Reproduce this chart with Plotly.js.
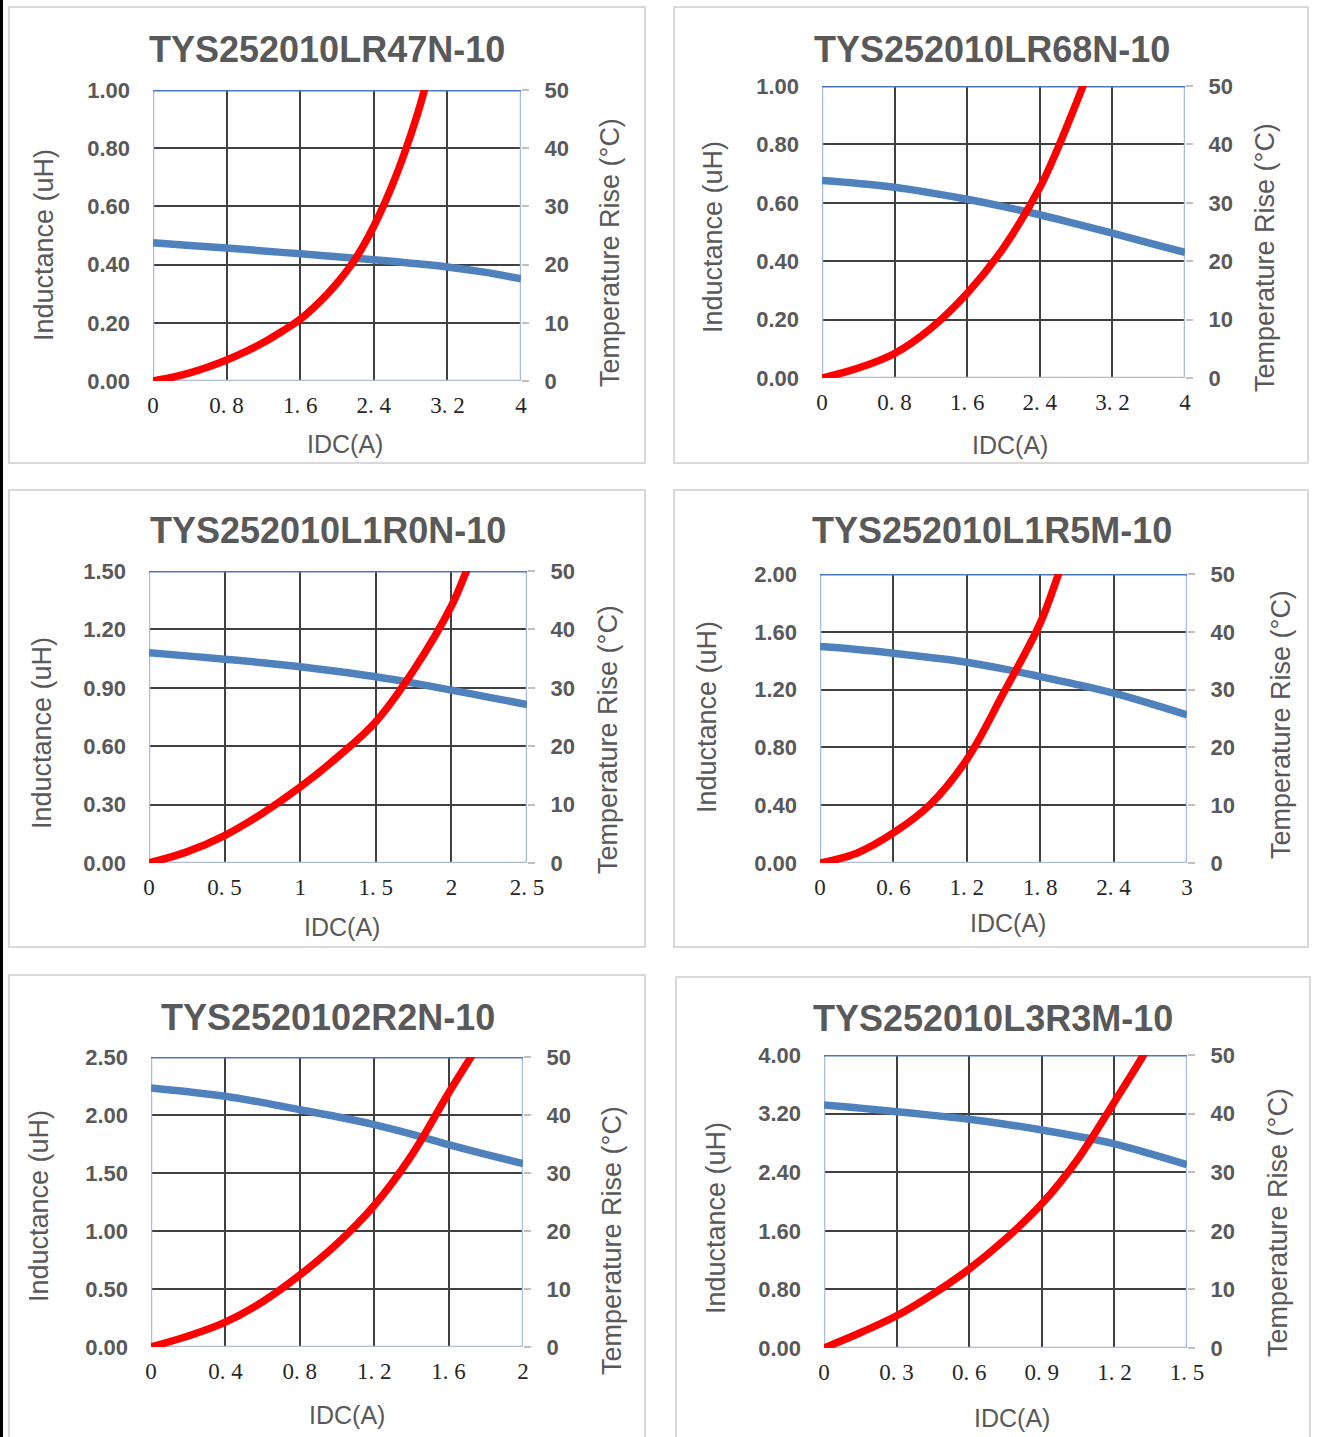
<!DOCTYPE html>
<html>
<head>
<meta charset="utf-8">
<script src="https://cdn.plot.ly/plotly-3.0.1.min.js"></script>
<style>
  html, body { margin: 0; padding: 0; background: #ffffff; }
  #chart { width: 1320px; height: 1437px; }
  #strip { position: absolute; left: 0; top: 0; width: 3px; height: 1437px; background: #000; z-index: 5; }
</style>
</head>
<body>
<div id="strip"></div>
<div id="chart"></div>
<script>
// ---------------- DATA ----------------
const titles = ["TYS252010LR47N-10", "TYS252010LR68N-10", "TYS252010L1R0N-10",
                "TYS252010L1R5M-10", "TYS2520102R2N-10", "TYS252010L3R3M-10"];

// Panel 1
const idcL1 = [0, 0.4, 0.8, 1.2, 1.6, 2.0, 2.4, 2.8, 3.2, 3.6, 4.0];
const ind1  = [0.475, 0.466, 0.457, 0.447, 0.437, 0.427, 0.417, 0.405, 0.392, 0.374, 0.351];
const idcT1 = [0, 0.2, 0.4, 0.6, 0.8, 1.0, 1.2, 1.4, 1.6, 1.8, 2.0, 2.2, 2.4, 2.6, 2.8, 2.95, 3.0];
const temp1 = [0, 0.6, 1.4, 2.4, 3.6, 5.0, 6.6, 8.5, 10.6, 13.4, 16.8, 21.0, 26.6, 33.6, 42.2, 50.0, 53.5];
// Panel 2
const idcL2 = [0, 0.4, 0.8, 1.2, 1.6, 2.0, 2.4, 2.8, 3.2, 3.6, 4.0];
const ind2  = [0.676, 0.666, 0.653, 0.634, 0.612, 0.587, 0.559, 0.528, 0.496, 0.463, 0.430];
const idcT2 = [0, 0.4, 0.8, 1.2, 1.6, 2.0, 2.4, 2.6, 2.8, 3.0];
const temp2 = [0, 1.7, 4.2, 8.5, 14.5, 22.3, 32.6, 39.4, 47.0, 55.0];
// Panel 3
const idcL3 = [0, 0.25, 0.5, 0.75, 1.0, 1.25, 1.5, 1.75, 2.0, 2.25, 2.5];
const ind3  = [1.080, 1.064, 1.047, 1.029, 1.008, 0.984, 0.957, 0.924, 0.888, 0.851, 0.814];
const idcT3 = [0, 0.25, 0.5, 0.75, 1.0, 1.25, 1.5, 1.75, 2.0, 2.1, 2.2];
const temp3 = [0, 1.9, 4.7, 8.5, 13.0, 18.2, 24.2, 33.0, 44.0, 50.0, 56.0];
// Panel 4
const idcL4 = [0, 0.3, 0.6, 0.9, 1.2, 1.5, 1.8, 2.1, 2.4, 2.7, 3.0];
const ind4  = [1.498, 1.478, 1.452, 1.422, 1.389, 1.343, 1.290, 1.235, 1.175, 1.103, 1.025];
const idcT4 = [0, 0.3, 0.6, 0.9, 1.2, 1.5, 1.8, 1.95, 2.05];
const temp4 = [0, 1.7, 5.2, 10.1, 17.9, 29.4, 41.5, 50.0, 56.0];
// Panel 5
const idcL5 = [0, 0.2, 0.4, 0.6, 0.8, 1.0, 1.2, 1.4, 1.6, 1.8, 2.0];
const ind5  = [2.233, 2.200, 2.161, 2.107, 2.046, 1.985, 1.917, 1.835, 1.744, 1.660, 1.580];
const idcT5 = [0, 0.2, 0.4, 0.6, 0.8, 1.0, 1.2, 1.4, 1.6, 1.75, 1.82];
const temp5 = [0, 1.9, 4.3, 7.8, 12.4, 17.8, 24.4, 33.0, 43.8, 51.5, 55.0];
// Panel 6
const idcL6 = [0, 0.15, 0.3, 0.45, 0.6, 0.75, 0.9, 1.05, 1.2, 1.35, 1.5];
const ind6  = [3.317, 3.275, 3.226, 3.176, 3.122, 3.055, 2.977, 2.888, 2.787, 2.650, 2.502];
const idcT6 = [0, 0.15, 0.3, 0.45, 0.6, 0.75, 0.9, 1.05, 1.2, 1.32, 1.38];
const temp6 = [0, 2.6, 5.5, 9.2, 13.5, 18.6, 24.6, 32.3, 42.0, 50.0, 54.5];

// Tick values
const xTicks1 = [0, 0.8, 1.6, 2.4, 3.2, 4];
const xTicks2 = [0, 0.8, 1.6, 2.4, 3.2, 4];
const xTicks3 = [0, 0.5, 1, 1.5, 2, 2.5];
const xTicks4 = [0, 0.6, 1.2, 1.8, 2.4, 3];
const xTicks5 = [0, 0.4, 0.8, 1.2, 1.6, 2];
const xTicks6 = [0, 0.3, 0.6, 0.9, 1.2, 1.5];
const yTicks1 = [0, 0.2, 0.4, 0.6, 0.8, 1.0];
const yTicks2 = [0, 0.2, 0.4, 0.6, 0.8, 1.0];
const yTicks3 = [0, 0.3, 0.6, 0.9, 1.2, 1.5];
const yTicks4 = [0, 0.4, 0.8, 1.2, 1.6, 2.0];
const yTicks5 = [0, 0.5, 1.0, 1.5, 2.0, 2.5];
const yTicks6 = [0, 0.8, 1.6, 2.4, 3.2, 4.0];
const tTicks  = [0, 10, 20, 30, 40, 50];

const xTitle = "IDC(A)";
const yTitleL = "Inductance (uH)";
const yTitleR = "Temperature Rise (°C)";

// ---------------- LAYOUT GEOMETRY (pixels) ----------------
const W = 1320, H = 1437;
const panels = [
  { idcL: idcL1, ind: ind1, idcT: idcT1, temp: temp1, xt: xTicks1, yt: yTicks1,
    plot: [153, 521, 90, 381], box: [9, 645, 7, 463],
    title: [327, 49], yl: [44, 245], yr: [610, 253], xl: [345, 444] },
  { idcL: idcL2, ind: ind2, idcT: idcT2, temp: temp2, xt: xTicks2, yt: yTicks2,
    plot: [822, 1185, 86, 378], box: [674, 1308, 7, 463],
    title: [992, 49], yl: [713, 237], yr: [1265, 258], xl: [1010, 445] },
  { idcL: idcL3, ind: ind3, idcT: idcT3, temp: temp3, xt: xTicks3, yt: yTicks3,
    plot: [149, 527, 571, 863], box: [9, 645, 490, 947],
    title: [328, 531], yl: [42, 733], yr: [608, 740], xl: [342, 927] },
  { idcL: idcL4, ind: ind4, idcT: idcT4, temp: temp4, xt: xTicks4, yt: yTicks4,
    plot: [820, 1187, 574, 863], box: [674, 1308, 490, 947],
    title: [992, 531], yl: [707, 717], yr: [1281, 725], xl: [1008, 923] },
  { idcL: idcL5, ind: ind5, idcT: idcT5, temp: temp5, xt: xTicks5, yt: yTicks5,
    plot: [151, 523, 1057, 1347], box: [9, 645, 975, 1445],
    title: [328, 1017], yl: [39, 1206], yr: [612, 1241], xl: [347, 1415] },
  { idcL: idcL6, ind: ind6, idcT: idcT6, temp: temp6, xt: xTicks6, yt: yTicks6,
    plot: [824, 1187, 1055, 1348], box: [676, 1310, 977, 1445],
    title: [993, 1018], yl: [716, 1218], yr: [1278, 1223], xl: [1012, 1418] }
];

const px = v => v / W;
const py = v => 1 - v / H;

const GRAY = '#595959';
const traces = [];
const layout = {
  width: W, height: H,
  margin: { l: 0, r: 0, t: 0, b: 0 },
  paper_bgcolor: '#ffffff', plot_bgcolor: 'rgba(0,0,0,0)',
  showlegend: false,
  shapes: [], annotations: []
};

panels.forEach((p, i) => {
  const n = i + 1;
  const xa = n === 1 ? 'xaxis' : 'xaxis' + n;
  const xr = n === 1 ? 'x' : 'x' + n;
  const yL = 2 * n - 1, yR = 2 * n;
  const yaL = yL === 1 ? 'yaxis' : 'yaxis' + yL;
  const yrL = yL === 1 ? 'y' : 'y' + yL;
  const yaR = 'yaxis' + yR, yrR = 'y' + yR;
  const xmax = p.xt[p.xt.length - 1];
  const ymax = p.yt[p.yt.length - 1];
  const [x0, x1, y0, y1] = p.plot;

  layout[xa] = {
    domain: [px(x0), px(x1)], anchor: yrL, range: [0, xmax],
    tickvals: p.xt, ticktext: p.xt.map(v => String(v).replace('.', '. ')),
    showgrid: true, gridcolor: '#404040', gridwidth: 2,
    zeroline: false, showline: false, ticks: '', ticklabelstandoff: 8,
    tickfont: { family: 'Liberation Serif, DejaVu Serif, serif', size: 23, color: '#262626' },
    fixedrange: true
  };
  layout[yaL] = {
    domain: [py(y1), py(y0)], anchor: xr, range: [0, ymax],
    tickvals: p.yt, tickformat: '.2f',
    showgrid: true, gridcolor: '#404040', gridwidth: 2,
    zeroline: false, showline: false, ticks: '', ticklabelstandoff: 22,
    tickfont: { family: 'Liberation Sans, Arial, sans-serif', size: 22, color: GRAY, weight: 'bold' },
    fixedrange: true
  };
  layout[yaR] = {
    overlaying: yrL, side: 'right', anchor: xr, range: [0, 50],
    tickvals: tTicks, showgrid: false, zeroline: false, showline: false,
    ticks: 'outside', ticklen: 7, tickwidth: 2, tickcolor: '#BFBFBF', ticklabelstandoff: 11,
    tickfont: { family: 'Liberation Sans, Arial, sans-serif', size: 22, color: GRAY, weight: 'bold' },
    fixedrange: true
  };

  traces.push({
    x: p.idcL, y: p.ind, xaxis: xr, yaxis: yrL, type: 'scatter', mode: 'lines',
    line: { color: '#4F81BD', width: 7.5, shape: 'spline', smoothing: 1 }, hoverinfo: 'skip'
  });
  traces.push({
    x: p.idcT, y: p.temp, xaxis: xr, yaxis: yrR, type: 'scatter', mode: 'lines',
    line: { color: '#FF0000', width: 7.5, shape: 'spline', smoothing: 1 }, hoverinfo: 'skip'
  });

  // plot-frame borders
  const side = (xa0, ya0, xa1, ya1, color, w) => ({
    type: 'line', xref: xr, yref: yrL, x0: xa0, y0: ya0, x1: xa1, y1: ya1,
    line: { color: color, width: w }, layer: 'between'
  });
  layout.shapes.push(side(0, 0, xmax, 0, '#AFBDD4', 2.5));
  layout.shapes.push(side(0, 0, 0, ymax, '#A9BCDB', 2.5));
  layout.shapes.push(side(xmax, 0, xmax, ymax, '#A9BCDB', 2.5));
  layout.shapes.push(side(0, ymax, xmax, ymax, '#4A78C2', 3));

  // panel box
  const [bx0, bx1, by0, by1] = p.box;
  layout.shapes.push({
    type: 'rect', xref: 'paper', yref: 'paper',
    x0: px(bx0), x1: px(bx1), y0: py(by1), y1: py(by0),
    line: { color: '#D9D9D9', width: 2 }, fillcolor: 'rgba(0,0,0,0)', layer: 'below'
  });

  // titles
  layout.annotations.push({
    xref: 'paper', yref: 'paper', x: px(p.title[0]), y: py(p.title[1]),
    xanchor: 'center', yanchor: 'middle', showarrow: false, text: titles[i],
    font: { family: 'Liberation Sans, Arial, sans-serif', size: 36, color: GRAY, weight: 'bold' }
  });
  layout.annotations.push({
    xref: 'paper', yref: 'paper', x: px(p.yl[0]), y: py(p.yl[1]),
    xanchor: 'center', yanchor: 'middle', showarrow: false, text: yTitleL, textangle: -90,
    font: { family: 'Liberation Sans, Arial, sans-serif', size: 27, color: GRAY }
  });
  layout.annotations.push({
    xref: 'paper', yref: 'paper', x: px(p.yr[0]), y: py(p.yr[1]),
    xanchor: 'center', yanchor: 'middle', showarrow: false, text: yTitleR, textangle: -90,
    font: { family: 'Liberation Sans, Arial, sans-serif', size: 27, color: GRAY }
  });
  layout.annotations.push({
    xref: 'paper', yref: 'paper', x: px(p.xl[0]), y: py(p.xl[1]),
    xanchor: 'center', yanchor: 'middle', showarrow: false, text: xTitle,
    font: { family: 'Liberation Sans, Arial, sans-serif', size: 25, color: GRAY }
  });
});

Plotly.newPlot('chart', traces, layout, { staticPlot: true, displayModeBar: false });
</script>
</body>
</html>
